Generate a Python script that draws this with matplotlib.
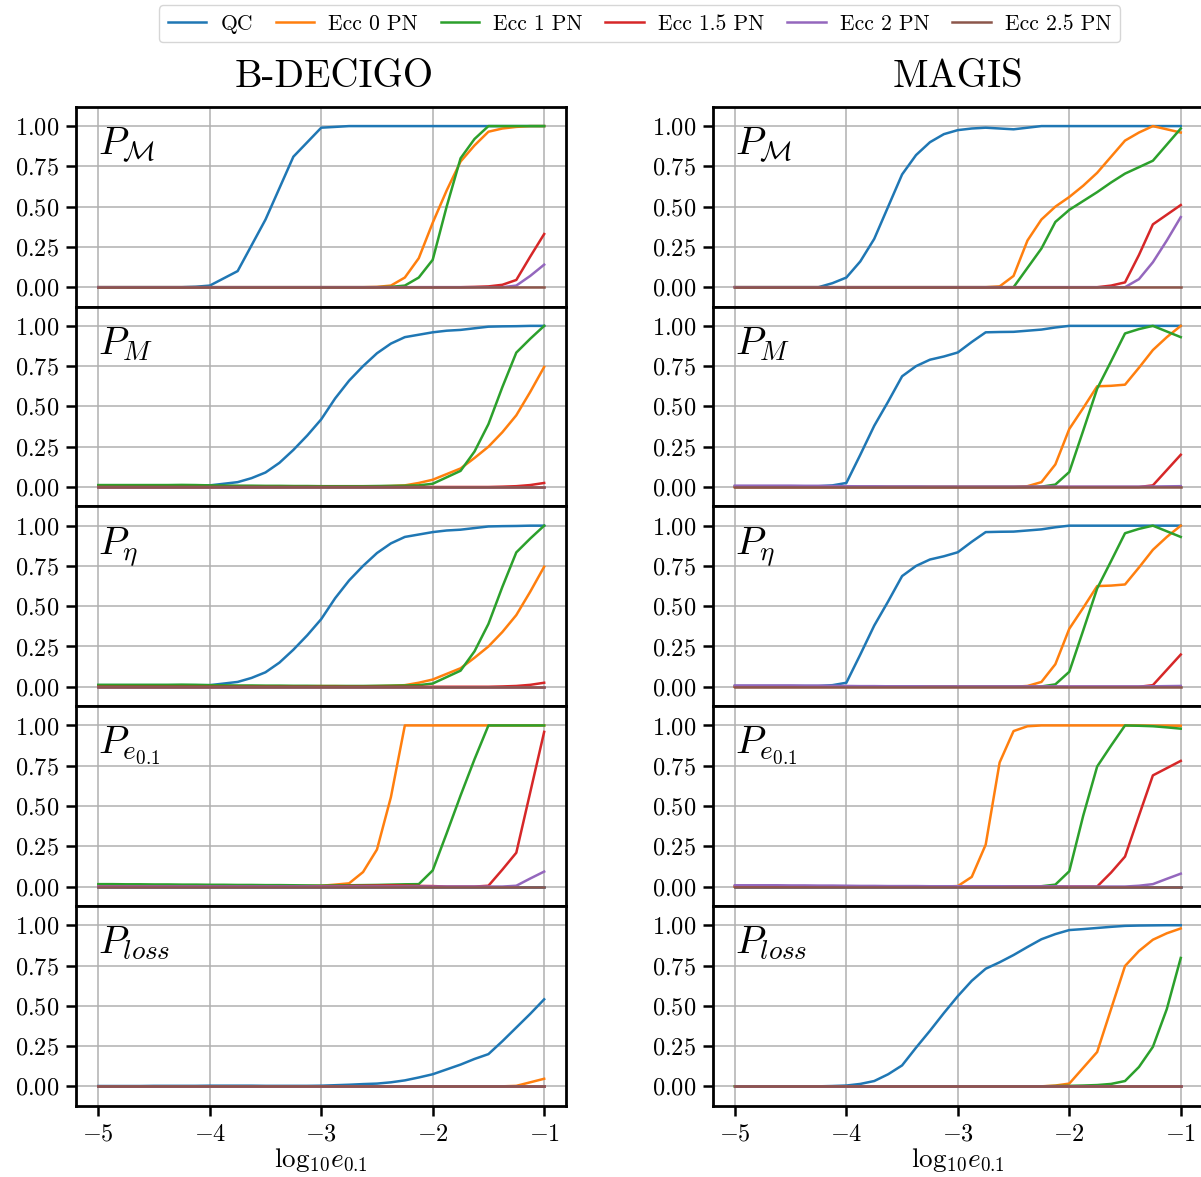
import numpy as np
import matplotlib
matplotlib.use("Agg")
import matplotlib.pyplot as plt

plt.rcParams.update({
    "font.family": "serif",
    "font.serif": ["cmr10"],
    "mathtext.fontset": "cm",
    "axes.formatter.use_mathtext": True,
    "axes.unicode_minus": True,
})

# log10 e_0.1 sampling
log_e = [-5.0, -4.875, -4.75, -4.625, -4.5, -4.375, -4.25, -4.125,
         -4.0, -3.875, -3.75, -3.625, -3.5, -3.375, -3.25, -3.125,
         -3.0, -2.875, -2.75, -2.625, -2.5, -2.375, -2.25, -2.125,
         -2.0, -1.875, -1.75, -1.625, -1.5, -1.375, -1.25, -1.125,
         -1.0]

no_signal = [0, 0, 0, 0, 0, 0, 0, 0,
             0, 0, 0, 0, 0, 0, 0, 0,
             0, 0, 0, 0, 0, 0, 0, 0,
             0, 0, 0, 0, 0, 0, 0, 0,
             0]

series_names = ["QC", "Ecc 0 PN", "Ecc 1 PN", "Ecc 1.5 PN", "Ecc 2 PN", "Ecc 2.5 PN"]
detectors = ["B-DECIGO", "MAGIS"]
row_labels = [r"$P_{\mathcal{M}}$", r"$P_M$", r"$P_\eta$", r"$P_{e_{0.1}}$", r"$P_{loss}$"]

# ---------------- B-DECIGO ----------------
bd_mc_qc = [0, 0, 0, 0, 0, 0, 0, 0.003,
            0.01, 0.055, 0.10, 0.26, 0.42, 0.615, 0.81, 0.90,
            0.99, 0.995, 1.0, 1.0, 1.0, 1.0, 1.0, 1.0,
            1.0, 1.0, 1.0, 1.0, 1.0, 1.0, 1.0, 1.0,
            1.0]
bd_mc_e0 = [0, 0, 0, 0, 0, 0, 0, 0,
            0, 0, 0, 0, 0, 0, 0, 0,
            0, 0, 0, 0, 0.002, 0.01, 0.06, 0.18,
            0.40, 0.60, 0.78, 0.88, 0.965, 0.985, 0.995, 1.0,
            1.0]
bd_mc_e1 = [0, 0, 0, 0, 0, 0, 0, 0,
            0, 0, 0, 0, 0, 0, 0, 0,
            0, 0, 0, 0, 0, 0.002, 0.01, 0.06,
            0.17, 0.50, 0.80, 0.92, 1.0, 1.0, 1.0, 1.0,
            1.0]
bd_mc_e15 = [0, 0, 0, 0, 0, 0, 0, 0,
             0, 0, 0, 0, 0, 0, 0, 0,
             0, 0, 0, 0, 0, 0, 0, 0,
             0, 0, 0, 0.002, 0.005, 0.015, 0.045, 0.19,
             0.33]
bd_mc_e2 = [0, 0, 0, 0, 0, 0, 0, 0,
            0, 0, 0, 0, 0, 0, 0, 0,
            0, 0, 0, 0, 0, 0, 0, 0,
            0, 0, 0, 0, 0, 0, 0.01, 0.07,
            0.14]

bd_m_qc = [0.01, 0.01, 0.01, 0.01, 0.01, 0.01, 0.01, 0.01,
           0.01, 0.02, 0.03, 0.055, 0.09, 0.15, 0.23, 0.32,
           0.42, 0.55, 0.66, 0.75, 0.83, 0.89, 0.93, 0.945,
           0.96, 0.97, 0.975, 0.985, 0.995, 0.997, 0.998, 1.0,
           1.0]
bd_m_e0 = [0, 0, 0, 0, 0, 0, 0, 0,
           0, 0, 0, 0, 0, 0, 0.002, 0.003,
           0.004, 0.004, 0.003, 0.003, 0.004, 0.006, 0.01, 0.025,
           0.045, 0.08, 0.115, 0.18, 0.25, 0.34, 0.445, 0.59,
           0.745]
bd_m_e1 = [0.012, 0.012, 0.012, 0.012, 0.012, 0.012, 0.013, 0.012,
           0.01, 0.009, 0.008, 0.008, 0.007, 0.007, 0.006, 0.006,
           0.005, 0.005, 0.005, 0.005, 0.006, 0.007, 0.008, 0.01,
           0.02, 0.06, 0.10, 0.22, 0.39, 0.62, 0.834, 0.92,
           1.0]
bd_m_e15 = [0, 0, 0, 0, 0, 0, 0, 0,
            0, 0, 0, 0, 0, 0, 0, 0,
            0, 0, 0, 0, 0, 0, 0, 0,
            0, 0, 0, 0, 0, 0.002, 0.005, 0.012,
            0.025]
# P_eta reads identical to P_M for B-DECIGO
bd_eta_qc, bd_eta_e0, bd_eta_e1, bd_eta_e15 = bd_m_qc, bd_m_e0, bd_m_e1, bd_m_e15

bd_e_e0 = [0.003, 0.003, 0.003, 0.003, 0.003, 0.003, 0.003, 0.003,
           0.003, 0.003, 0.003, 0.003, 0.003, 0.003, 0.003, 0.004,
           0.005, 0.012, 0.02, 0.09, 0.23, 0.555, 1.0, 1.0,
           1.0, 1.0, 1.0, 1.0, 1.0, 1.0, 1.0, 1.0,
           1.0]
bd_e_e1 = [0.015, 0.015, 0.014, 0.014, 0.013, 0.013, 0.012, 0.012,
           0.011, 0.011, 0.01, 0.01, 0.009, 0.009, 0.008, 0.007,
           0.006, 0.007, 0.008, 0.009, 0.01, 0.012, 0.014, 0.015,
           0.10, 0.33, 0.565, 0.79, 1.0, 1.0, 1.0, 1.0,
           1.0]
bd_e_e15 = [0, 0, 0, 0, 0, 0, 0, 0,
            0, 0, 0, 0, 0, 0, 0, 0,
            0.002, 0.003, 0.004, 0.005, 0.006, 0.007, 0.006, 0.004,
            0.003, 0, 0, 0, 0.005, 0.105, 0.21, 0.585,
            0.96]
bd_e_e2 = [0, 0, 0, 0, 0, 0, 0, 0,
           0, 0, 0, 0, 0, 0, 0, 0,
           0, 0, 0, 0, 0, 0, 0, 0,
           0, 0, 0, 0, 0, 0, 0.005, 0.05,
           0.093]

bd_loss_qc = [0.002, 0.002, 0.002, 0.002, 0.003, 0.003, 0.003, 0.003,
              0.004, 0.004, 0.004, 0.004, 0.003, 0.003, 0.003, 0.003,
              0.004, 0.007, 0.01, 0.014, 0.017, 0.025, 0.037, 0.055,
              0.075, 0.105, 0.135, 0.17, 0.20, 0.28, 0.365, 0.45,
              0.54]
bd_loss_e0 = [0, 0, 0, 0, 0, 0, 0, 0,
              0, 0, 0, 0, 0, 0, 0, 0,
              0, 0, 0, 0, 0, 0, 0, 0,
              0, 0, 0, 0, 0, 0, 0.003, 0.025,
              0.047]

# ---------------- MAGIS ----------------
mg_mc_qc = [0, 0, 0, 0, 0, 0, 0, 0.025,
            0.06, 0.16, 0.30, 0.50, 0.70, 0.82, 0.90, 0.95,
            0.975, 0.985, 0.99, 0.985, 0.98, 0.99, 1.0, 1.0,
            1.0, 1.0, 1.0, 1.0, 1.0, 1.0, 1.0, 1.0,
            1.0]
mg_mc_e0 = [0, 0, 0, 0, 0, 0, 0, 0,
            0, 0, 0, 0, 0, 0, 0, 0,
            0, 0, 0, 0.005, 0.07, 0.29, 0.42, 0.50,
            0.56, 0.63, 0.71, 0.81, 0.91, 0.96, 1.0, 0.98,
            0.96]
mg_mc_e1 = [0, 0, 0, 0, 0, 0, 0, 0,
            0, 0, 0, 0, 0, 0, 0, 0,
            0, 0, 0, 0, 0, 0.12, 0.24, 0.405,
            0.48, 0.535, 0.59, 0.65, 0.705, 0.745, 0.785, 0.885,
            0.985]
mg_mc_e15 = [0, 0, 0, 0, 0, 0, 0, 0,
             0, 0, 0, 0, 0, 0, 0, 0,
             0, 0, 0, 0, 0, 0, 0, 0,
             0, 0, 0, 0.01, 0.03, 0.20, 0.39, 0.45,
             0.51]
mg_mc_e2 = [0, 0, 0, 0, 0, 0, 0, 0,
            0, 0, 0, 0, 0, 0, 0, 0,
            0, 0, 0, 0, 0, 0, 0, 0,
            0, 0, 0, 0, 0, 0.05, 0.155, 0.29,
            0.435]

mg_m_qc = [0.005, 0.005, 0.005, 0.005, 0.005, 0.005, 0.005, 0.01,
           0.025, 0.20, 0.38, 0.53, 0.687, 0.75, 0.79, 0.81,
           0.835, 0.90, 0.96, 0.962, 0.963, 0.97, 0.977, 0.99,
           1.0, 1.0, 1.0, 1.0, 1.0, 1.0, 1.0, 1.0,
           1.0]
mg_m_e0 = [0, 0, 0, 0, 0, 0, 0, 0,
           0, 0, 0, 0, 0, 0, 0, 0,
           0, 0, 0, 0, 0, 0.005, 0.03, 0.14,
           0.36, 0.49, 0.625, 0.628, 0.635, 0.74, 0.85, 0.93,
           1.0]
mg_m_e1 = [0, 0, 0, 0, 0, 0, 0, 0,
           0, 0, 0, 0, 0, 0, 0, 0,
           0, 0, 0, 0, 0, 0, 0.002, 0.015,
           0.093, 0.35, 0.61, 0.78, 0.953, 0.98, 1.0, 0.965,
           0.93]
mg_m_e15 = [0, 0, 0, 0, 0, 0, 0, 0,
            0, 0, 0, 0, 0, 0, 0, 0,
            0, 0, 0, 0, 0, 0, 0, 0,
            0, 0, 0, 0, 0, 0, 0.01, 0.105,
            0.20]
mg_m_e2 = [0.008, 0.008, 0.008, 0.008, 0.008, 0.007, 0.007, 0.006,
           0.005, 0.004, 0.004, 0.003, 0.003, 0.003, 0.002, 0.002,
           0.002, 0.002, 0.002, 0.002, 0.002, 0.002, 0.002, 0.002,
           0.002, 0.002, 0.002, 0.002, 0.002, 0.002, 0.003, 0.004,
           0.005]
# P_eta reads identical to P_M for MAGIS
mg_eta_qc, mg_eta_e0, mg_eta_e1, mg_eta_e15, mg_eta_e2 = mg_m_qc, mg_m_e0, mg_m_e1, mg_m_e15, mg_m_e2

mg_e_e0 = [0, 0, 0, 0, 0, 0, 0, 0,
           0, 0, 0, 0, 0, 0, 0, 0,
           0.003, 0.06, 0.26, 0.77, 0.965, 0.995, 1.0, 1.0,
           1.0, 1.0, 1.0, 1.0, 1.0, 1.0, 0.999, 0.999,
           0.998]
mg_e_e1 = [0, 0, 0, 0, 0, 0, 0, 0,
           0, 0, 0, 0, 0, 0, 0, 0,
           0, 0, 0, 0, 0, 0, 0.002, 0.012,
           0.095, 0.44, 0.745, 0.875, 1.0, 0.998, 0.995, 0.988,
           0.98]
mg_e_e15 = [0, 0, 0, 0, 0, 0, 0, 0,
            0, 0, 0, 0, 0, 0, 0, 0,
            0, 0, 0, 0, 0, 0, 0, 0,
            0, 0, 0, 0.087, 0.186, 0.44, 0.69, 0.735,
            0.78]
mg_e_e2 = [0.008, 0.008, 0.008, 0.008, 0.007, 0.007, 0.006, 0.006,
           0.005, 0.004, 0.004, 0.003, 0.003, 0.003, 0.002, 0.002,
           0.002, 0.002, 0.002, 0.002, 0.001, 0.001, 0.001, 0.001,
           0, 0, 0, 0, 0, 0.005, 0.015, 0.048,
           0.08]

mg_loss_qc = [0, 0, 0, 0, 0, 0, 0, 0.002,
              0.005, 0.015, 0.033, 0.075, 0.13, 0.24, 0.345, 0.455,
              0.56, 0.655, 0.73, 0.77, 0.815, 0.865, 0.913, 0.945,
              0.97, 0.976, 0.983, 0.99, 0.996, 0.998, 0.999, 1.0,
              1.0]
mg_loss_e0 = [0, 0, 0, 0, 0, 0, 0, 0,
              0, 0, 0, 0, 0, 0, 0, 0,
              0, 0, 0, 0, 0, 0, 0, 0.005,
              0.017, 0.115, 0.213, 0.48, 0.747, 0.84, 0.91, 0.95,
              0.98]
mg_loss_e1 = [0, 0, 0, 0, 0, 0, 0, 0,
              0, 0, 0, 0, 0, 0, 0, 0,
              0, 0, 0, 0, 0, 0, 0, 0.002,
              0.003, 0.005, 0.008, 0.015, 0.033, 0.12, 0.245, 0.48,
              0.797]

# rows x series for each detector (QC, 0, 1, 1.5, 2, 2.5 PN)
bdecigo = [
    [bd_mc_qc, bd_mc_e0, bd_mc_e1, bd_mc_e15, bd_mc_e2, no_signal],
    [bd_m_qc, bd_m_e0, bd_m_e1, bd_m_e15, no_signal, no_signal],
    [bd_eta_qc, bd_eta_e0, bd_eta_e1, bd_eta_e15, no_signal, no_signal],
    [no_signal, bd_e_e0, bd_e_e1, bd_e_e15, bd_e_e2, no_signal],
    [bd_loss_qc, bd_loss_e0, no_signal, no_signal, no_signal, no_signal],
]
magis = [
    [mg_mc_qc, mg_mc_e0, mg_mc_e1, mg_mc_e15, mg_mc_e2, no_signal],
    [mg_m_qc, mg_m_e0, mg_m_e1, mg_m_e15, mg_m_e2, no_signal],
    [mg_eta_qc, mg_eta_e0, mg_eta_e1, mg_eta_e15, mg_eta_e2, no_signal],
    [no_signal, mg_e_e0, mg_e_e1, mg_e_e15, mg_e_e2, no_signal],
    [mg_loss_qc, mg_loss_e0, mg_loss_e1, no_signal, no_signal, no_signal],
]

colors = ["#1f77b4", "#ff7f0e", "#2ca02c", "#d62728", "#9467bd", "#8c564b"]

fig, axes = plt.subplots(5, 2, figsize=(12.01, 11.77), dpi=100, sharex=True)
fig.subplots_adjust(left=0.0633, right=1.0017, top=0.9093, bottom=0.0606,
                    hspace=0.0, wspace=0.298)

for col, (name, data) in enumerate(zip(detectors, [bdecigo, magis])):
    for row in range(5):
        ax = axes[row, col]
        for s, ys in enumerate(data[row]):
            ax.plot(log_e, ys, color=colors[s], lw=1.8, label=series_names[s])
        ax.set_xlim(-5.2, -0.8)
        ax.set_ylim(-0.12, 1.12)
        ax.set_xticks([-5, -4, -3, -2, -1])
        ax.set_yticks([0.0, 0.25, 0.5, 0.75, 1.0])
        ax.grid(True, color="#b0b0b0", lw=1.1)
        ax.set_axisbelow(True)
        for sp in ax.spines.values():
            sp.set_linewidth(2.0)
        ax.tick_params(axis="both", labelsize=17.5, length=7, width=1.8)
        ax.tick_params(axis="x", pad=6)
        ax.tick_params(axis="y", pad=5)
        ax.text(0.045, 0.76, row_labels[row], transform=ax.transAxes,
                fontsize=28, va="baseline", ha="left")
        if row < 4:
            ax.tick_params(axis="x", length=0, labelbottom=False)
        else:
            ax.set_xlabel(r"$\mathrm{log}_{10}e_{0.1}$", fontsize=19.5, labelpad=0.5)
    title_x = 0.526 if col == 0 else 0.5
    axes[0, col].set_title(name, fontsize=28, pad=14, x=title_x)

handles, labels = axes[0, 0].get_legend_handles_labels()
fig.legend(handles, labels, loc="upper center", bbox_to_anchor=(0.5325, 1.0),
           borderaxespad=0.25, ncol=6, fontsize=15.5, handlelength=1.8,
           handletextpad=0.65, columnspacing=1.05)

fig.savefig("out.png", dpi=100)
